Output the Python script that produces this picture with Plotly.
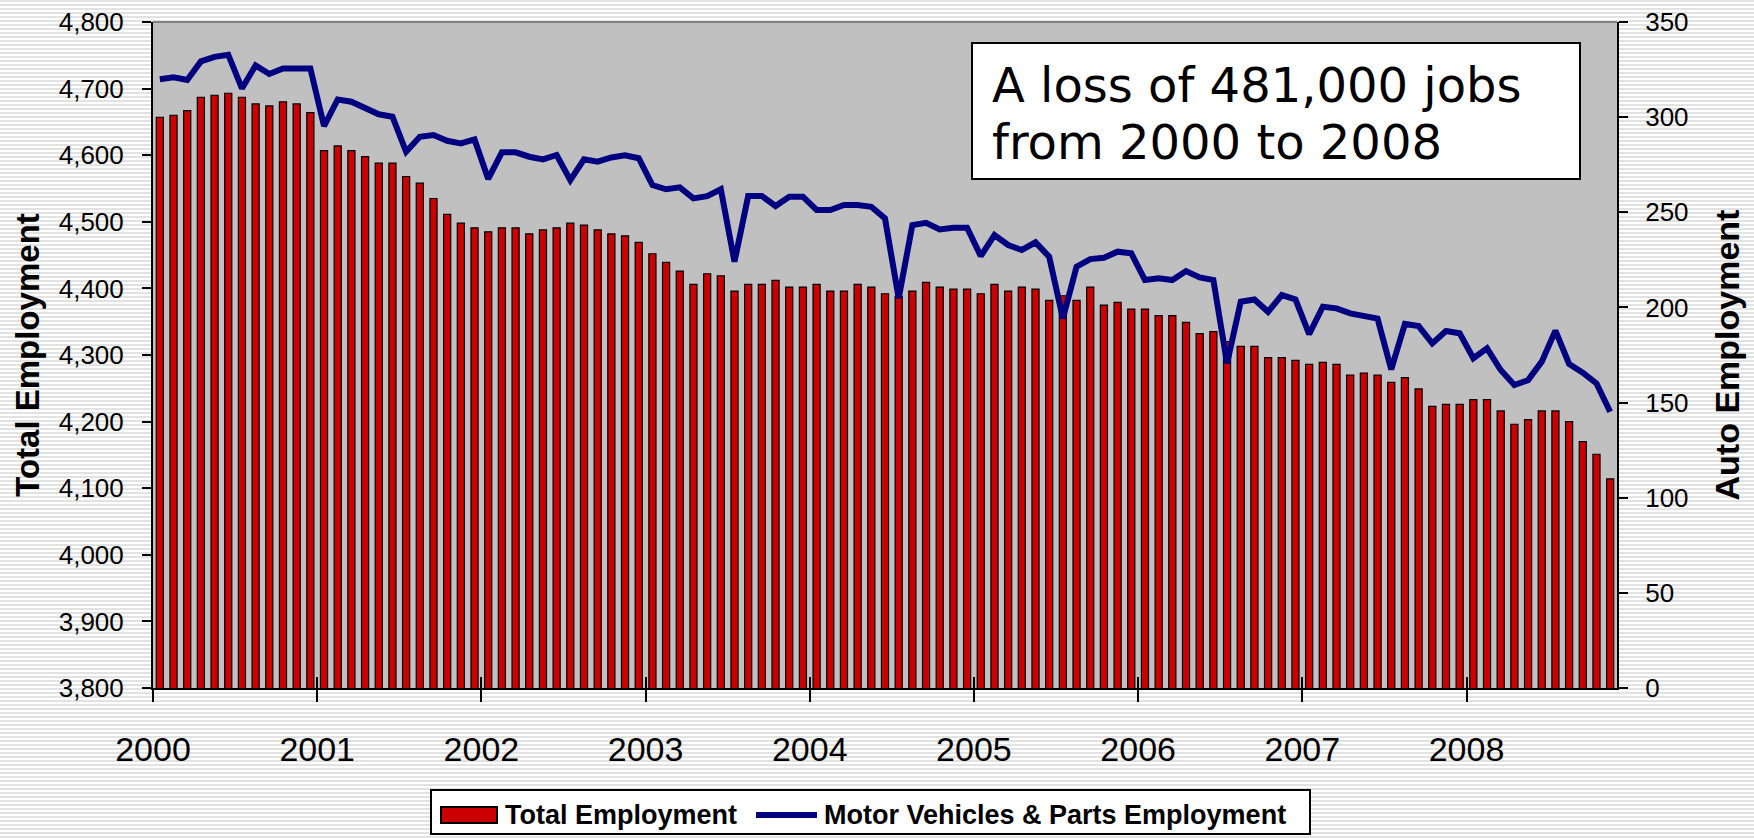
import plotly.graph_objects as go

# Monthly values, Jan 2000 .. Nov 2008 (thousands)
total_employment = [
    4657, 4660, 4667, 4687, 4690, 4693, 4687, 4677, 4674, 4680, 4677, 4664,
    4607, 4614, 4607, 4598, 4588, 4588, 4568, 4558, 4535, 4511, 4498, 4491,
    4485, 4491, 4491, 4482, 4488, 4491, 4498, 4495, 4488, 4482, 4479, 4469,
    4452, 4439, 4426, 4406, 4422, 4419, 4396, 4406, 4406, 4412, 4402, 4402,
    4406, 4396, 4396, 4406, 4402, 4392, 4388, 4396, 4409, 4402, 4399, 4399,
    4392, 4406, 4396, 4402, 4399, 4382, 4389, 4382, 4402, 4375, 4379, 4369,
    4369, 4359, 4359, 4349, 4332, 4335, 4320, 4313, 4313, 4296, 4296, 4292,
    4286, 4289, 4286, 4270, 4273, 4270, 4259, 4266, 4249, 4223, 4226, 4226,
    4233, 4233, 4216, 4196, 4203, 4216, 4216, 4200, 4170, 4151, 4114,
]
auto_employment = [
    319.9, 320.9, 319.5, 329.3, 331.7, 332.8, 315.1, 327.2, 322.7, 325.6, 325.6, 325.6,
    295.3, 309.3, 308.1, 304.9, 301.5, 300.2, 281.8, 289.7, 290.6, 287.6, 286.2, 288.3,
    267.5, 281.5, 281.5, 279.2, 277.8, 280.1, 266.9, 277.8, 276.6, 278.8, 279.9, 278.4,
    264.3, 262.1, 263.1, 257.3, 258.5, 262.1, 224.0, 258.5, 258.5, 253.3, 258.2, 258.2,
    251.2, 251.2, 253.8, 253.8, 252.9, 246.8, 204.8, 243.3, 244.5, 241.0, 241.9, 241.9,
    227.0, 238.0, 232.8, 230.2, 234.2, 226.6, 194.2, 221.4, 225.4, 226.1, 229.3, 228.4,
    214.4, 215.3, 214.4, 219.1, 215.8, 214.4, 170.6, 203.0, 204.2, 197.7, 206.5, 204.2,
    186.0, 200.4, 199.5, 196.9, 195.1, 194.1, 167.4, 191.3, 190.2, 181.1, 187.6, 186.4,
    173.3, 178.5, 167.1, 159.2, 161.8, 171.5, 187.8, 170.3, 165.7, 160.1, 145.2,
]
years = ['2000', '2001', '2002', '2003', '2004', '2005', '2006', '2007', '2008']
note_lines = ['A loss of 481,000 jobs', 'from 2000 to 2008']
legend_names = ['Total Employment', 'Motor Vehicles & Parts Employment']

BAR_RED = '#CC0000'
LINE_NAVY = '#000080'
PLOT_GRAY = '#C0C0C0'
ARIAL = 'Liberation Sans, Arial, sans-serif'
VERDANA = 'DejaVu Sans, Verdana, sans-serif'

FIG_W, FIG_H = 1754, 838
L, R, T, B = 153, 137, 22, 150
PW, PH = FIG_W - L - R, FIG_H - T - B

TOTAL_RANGE = [3800, 4800]
AUTO_RANGE = [0, 350]


def px_x(px):
    return (px - L) / PW


def px_y(py):
    return (FIG_H - B - py) / PH


n_months = len(total_employment)
month_pos = [i + 0.5 for i in range(n_months)]
year_ticks = [12 * i for i in range(len(years))]

fig = go.Figure()
fig.add_trace(go.Bar(
    x=month_pos, y=total_employment, name=legend_names[0],
    marker=dict(color=BAR_RED, line=dict(color='black', width=1.2)),
))
fig.add_trace(go.Scatter(
    x=month_pos, y=auto_employment, name=legend_names[1], mode='lines',
    line=dict(color=LINE_NAVY, width=6),
    xaxis='x2', yaxis='y2',
))

# striped slide background
stripes = []
for py in range(0, FIG_H, 4):
    stripes.append(
        f"M{px_x(0):.5f},{px_y(py):.5f}H{px_x(FIG_W):.5f}"
        f"V{px_y(py + 2):.5f}H{px_x(0):.5f}Z"
    )
shapes = [
    dict(type='path', xref='paper', yref='paper', path=''.join(stripes),
         fillcolor='#E2E2E2', line=dict(width=0), layer='below'),
    dict(type='rect', xref='paper', yref='paper', x0=0, x1=1, y0=0, y1=1,
         fillcolor=PLOT_GRAY, line=dict(width=0), layer='below'),
    dict(type='line', xref='paper', yref='paper', x0=0, x1=1, y0=1, y1=1,
         line=dict(color='#808080', width=2), layer='above'),
    # note box
    dict(type='rect', xref='paper', yref='paper',
         x0=px_x(972), x1=px_x(1580), y0=px_y(179), y1=px_y(43),
         fillcolor='white', line=dict(color='black', width=2), layer='above'),
    # legend
    dict(type='rect', xref='paper', yref='paper',
         x0=px_x(431), x1=px_x(1310), y0=px_y(834), y1=px_y(790),
         fillcolor='white', line=dict(color='black', width=2), layer='above'),
    dict(type='rect', xref='paper', yref='paper',
         x0=px_x(441), x1=px_x(497), y0=px_y(823), y1=px_y(807),
         fillcolor=BAR_RED, line=dict(color='black', width=2), layer='above'),
    dict(type='line', xref='paper', yref='paper',
         x0=px_x(756), x1=px_x(817), y0=px_y(815), y1=px_y(815),
         line=dict(color=LINE_NAVY, width=6), layer='above'),
]

annotations = [
    dict(text=note_lines[0], x=px_x(990), y=px_y(85), xanchor='left', yanchor='middle',
         font=dict(family=VERDANA, size=48, color='black')),
    dict(text=note_lines[1], x=px_x(990), y=px_y(142), xanchor='left', yanchor='middle',
         font=dict(family=VERDANA, size=48, color='black')),
    dict(text=legend_names[0], x=px_x(503), y=px_y(815), xanchor='left', yanchor='middle',
         font=dict(family=ARIAL, size=27, color='black', weight='bold')),
    dict(text=legend_names[1], x=px_x(822), y=px_y(815), xanchor='left', yanchor='middle',
         font=dict(family=ARIAL, size=27, color='black', weight='bold')),
]
for a in annotations:
    a.update(xref='paper', yref='paper', showarrow=False)

tick_style = dict(tickwidth=2, tickcolor='black', showgrid=False,
                  zeroline=False, automargin=False)

fig.update_layout(
    width=FIG_W, height=FIG_H,
    margin=dict(l=L, r=R, t=T, b=B),
    paper_bgcolor='white',
    plot_bgcolor=PLOT_GRAY,
    showlegend=False,
    bargap=0.48,
    font=dict(family=ARIAL, color='black'),
    shapes=shapes,
    annotations=annotations,
    xaxis=dict(
        range=[0, n_months], tickvals=year_ticks, ticktext=years,
        ticks='outside', ticklen=12,
        showline=True, linecolor='black', linewidth=2,
        tickfont=dict(size=34), ticklabelstandoff=18, **tick_style,
    ),
    xaxis2=dict(
        overlaying='x', anchor='y2', range=[0, n_months], tickvals=year_ticks,
        ticks='inside', ticklen=11, showticklabels=False, showline=False,
        **tick_style,
    ),
    yaxis=dict(
        range=TOTAL_RANGE, dtick=100, tickformat=',',
        ticks='outside', ticklen=9,
        showline=True, linecolor='black', linewidth=2,
        tickfont=dict(size=26), ticklabelstandoff=13,
        title=dict(text='Total Employment', standoff=9,
                   font=dict(size=33, weight='bold')),
        **tick_style,
    ),
    yaxis2=dict(
        overlaying='y', side='right', anchor='x2', range=AUTO_RANGE, dtick=50,
        ticks='outside', ticklen=9,
        showline=True, linecolor='black', linewidth=2,
        tickfont=dict(size=26), ticklabelstandoff=12,
        title=dict(text='Auto Employment', standoff=28,
                   font=dict(size=34, weight='bold')),
        **tick_style,
    ),
    # inner halves of the crossing tick marks
    yaxis3=dict(
        overlaying='y', anchor='x', range=TOTAL_RANGE, dtick=100,
        ticks='inside', ticklen=9, showticklabels=False, showline=False,
        **tick_style,
    ),
    yaxis4=dict(
        overlaying='y', side='right', anchor='x', range=AUTO_RANGE, dtick=50,
        ticks='inside', ticklen=7, showticklabels=False, showline=False,
        **tick_style,
    ),
)

fig.write_html(
    "out.html",
    config={'displayModeBar': False},
    post_script="document.body.style.margin='0';document.body.style.overflow='hidden';",
)
